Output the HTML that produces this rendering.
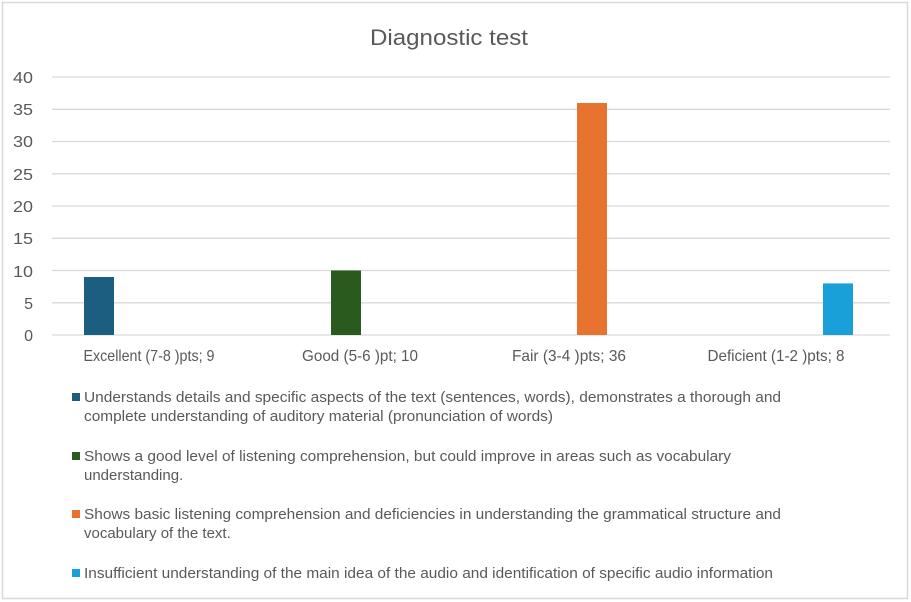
<!DOCTYPE html>
<html><head><meta charset="utf-8"><style>
html,body{margin:0;padding:0;background:#fff;}
svg{display:block;}
text{font-family:"Liberation Sans",sans-serif;fill:#595959;}
</style></head><body>
<svg width="911" height="602" viewBox="0 0 911 602" xmlns="http://www.w3.org/2000/svg">
<rect x="2.5" y="2.5" width="905" height="596" fill="#fff" stroke="#d9d9d9" stroke-width="1.5"/>
<text x="449" y="45" font-size="22" text-anchor="middle" textLength="158" lengthAdjust="spacingAndGlyphs">Diagnostic test</text>
<g stroke="#d9d9d9" stroke-width="1.3">
<line x1="52" y1="77" x2="890" y2="77"/>
<line x1="52" y1="109.3" x2="890" y2="109.3"/>
<line x1="52" y1="141.5" x2="890" y2="141.5"/>
<line x1="52" y1="173.8" x2="890" y2="173.8"/>
<line x1="52" y1="206" x2="890" y2="206"/>
<line x1="52" y1="238.3" x2="890" y2="238.3"/>
<line x1="52" y1="270.5" x2="890" y2="270.5"/>
<line x1="52" y1="302.8" x2="890" y2="302.8"/>
<line x1="52" y1="335" x2="890" y2="335"/>
</g>
<g font-size="16" text-anchor="end">
<text x="33" y="83" textLength="20" lengthAdjust="spacingAndGlyphs">40</text>
<text x="33" y="115" textLength="20" lengthAdjust="spacingAndGlyphs">35</text>
<text x="33" y="147" textLength="20" lengthAdjust="spacingAndGlyphs">30</text>
<text x="33" y="180" textLength="20" lengthAdjust="spacingAndGlyphs">25</text>
<text x="33" y="212" textLength="20" lengthAdjust="spacingAndGlyphs">20</text>
<text x="33" y="244" textLength="20" lengthAdjust="spacingAndGlyphs">15</text>
<text x="33" y="277" textLength="20" lengthAdjust="spacingAndGlyphs">10</text>
<text x="33" y="309">5</text>
<text x="33" y="341">0</text>
</g>
<rect x="84" y="277" width="30" height="58" fill="#1b5e80"/>
<rect x="331" y="270.5" width="30" height="64.5" fill="#2a5a1e"/>
<rect x="577" y="103" width="30" height="232" fill="#e8732f"/>
<rect x="823" y="283.4" width="30" height="51.6" fill="#1aa0d8"/>
<g font-size="16" text-anchor="middle">
<text x="149" y="361" textLength="131" lengthAdjust="spacingAndGlyphs">Excellent (7-8 )pts; 9</text>
<text x="360" y="361" textLength="116" lengthAdjust="spacingAndGlyphs">Good (5-6 )pt; 10</text>
<text x="569" y="361" textLength="114" lengthAdjust="spacingAndGlyphs">Fair (3-4 )pts; 36</text>
<text x="776" y="361" textLength="137" lengthAdjust="spacingAndGlyphs">Deficient (1-2 )pts; 8</text>
</g>
<rect x="72" y="393" width="8" height="8" fill="#1b5e80"/>
<rect x="72" y="452" width="8" height="8" fill="#2a5a1e"/>
<rect x="72" y="510" width="8" height="8" fill="#e8732f"/>
<rect x="72" y="569" width="8" height="8" fill="#1aa0d8"/>
<g font-size="15">
<text x="84" y="402" textLength="697" lengthAdjust="spacingAndGlyphs">Understands details and specific aspects of the text (sentences, words), demonstrates a thorough and</text>
<text x="84" y="421" textLength="469" lengthAdjust="spacingAndGlyphs">complete understanding of auditory material (pronunciation of words)</text>
<text x="84" y="461" textLength="647" lengthAdjust="spacingAndGlyphs">Shows a good level of listening comprehension, but could improve in areas such as vocabulary</text>
<text x="84" y="480">understanding.</text>
<text x="84" y="519" textLength="697" lengthAdjust="spacingAndGlyphs">Shows basic listening comprehension and deficiencies in understanding the grammatical structure and</text>
<text x="84" y="538">vocabulary of the text.</text>
<text x="84" y="578" textLength="689" lengthAdjust="spacingAndGlyphs">Insufficient understanding of the main idea of the audio and identification of specific audio information</text>
</g>
</svg>
</body></html>
